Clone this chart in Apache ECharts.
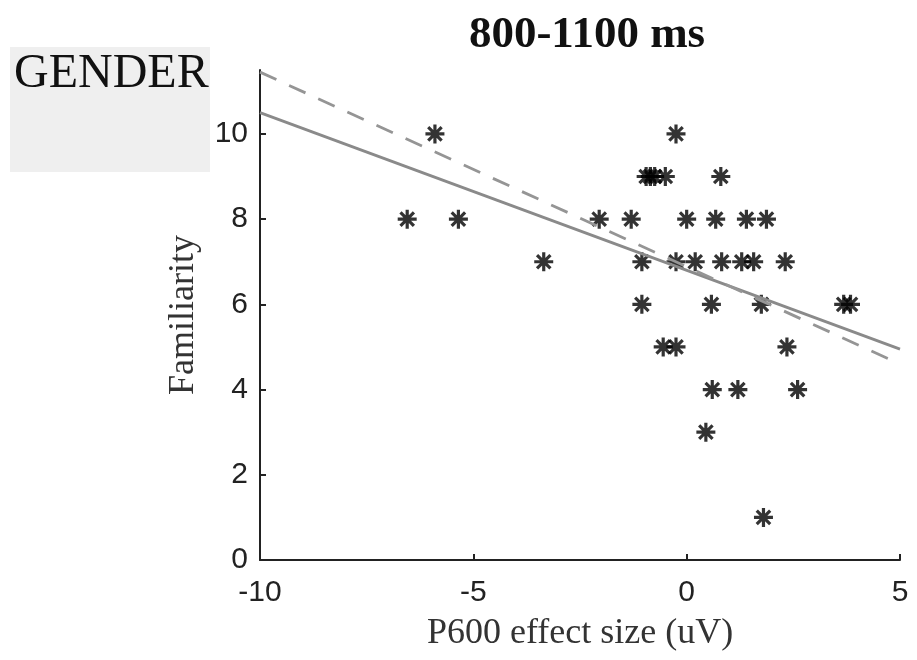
<!DOCTYPE html>
<html>
<head>
<meta charset="utf-8">
<script src="https://cdn.jsdelivr.net/npm/echarts@6/dist/echarts.min.js"></script>
<style>html,body{margin:0;padding:0;background:#fff;}#c{width:917px;height:660px;}</style>
</head>
<body>
<div id="c"></div>
<script>
// ---- data ----
const titleText = '800-1100 ms';
const panelLabel = 'GENDER';
const xName = 'P600 effect size (uV)';
const yName = 'Familiarity';
const xTicks = [-10, -5, 0, 5];
const yTicks = [0, 2, 4, 6, 8, 10];
const pointsX = [
  -5.9, -0.25,
  -0.95, -0.85, -0.75, -0.5, 0.8,
  -6.55, -5.35, -2.05, -1.3, 0.0, 0.68, 1.4, 1.87,
  -3.35, -1.05, -0.25, 0.2, 0.82, 1.29, 1.57, 2.31,
  -1.05, 0.58, 1.75, 3.68, 3.84,
  -0.55, -0.25, 2.35,
  0.6, 1.2, 2.6,
  0.45,
  1.8
];
const pointsY = [
  10, 10,
  9, 9, 9, 9, 9,
  8, 8, 8, 8, 8, 8, 8, 8,
  7, 7, 7, 7, 7, 7, 7, 7,
  6, 6, 6, 6, 6,
  5, 5, 5,
  4, 4, 4,
  3,
  1
];
const solidFitX = [-10, 5];
const solidFitY = [10.5, 4.95];
const dashedFitX = [-10, 5];
const dashedFitY = [11.45, 4.6];

const chart = echarts.init(document.getElementById('c'), null, {renderer: 'canvas'});
const star = 'path://M0,-10L0,10M-10,0L10,0M-7.07,-7.07L7.07,7.07M-7.07,7.07L7.07,-7.07';
const pts = pointsX.map((x, i) => [x, pointsY[i]]);
const solid = solidFitX.map((x, i) => [x, solidFitY[i]]);
const dashed = dashedFitX.map((x, i) => [x, dashedFitY[i]]);

chart.setOption({
  backgroundColor: '#ffffff',
  animation: false,
  title: {
    text: titleText,
    left: 582, top: 8, textAlign: 'center',
    textStyle: {fontFamily: 'Liberation Serif', fontWeight: 'bold', fontSize: 45, color: '#111'}
  },
  graphic: [
    {type: 'rect', left: 10, top: 47, shape: {width: 200, height: 125}, style: {fill: '#efefef'}, z: -1},
    {type: 'text', left: 14, top: 50, style: {text: panelLabel, font: '48px "Liberation Serif"', fill: '#111'}}
  ],
  grid: {left: 260, right: 17, top: 70, bottom: 100, containLabel: false},
  xAxis: {
    type: 'value', min: -10, max: 5, interval: 5,
    name: xName, nameLocation: 'middle', nameGap: 56,
    nameTextStyle: {fontFamily: 'Liberation Serif', fontSize: 36, color: '#333'},
    axisLine: {onZero: false, lineStyle: {color: '#222', width: 2}},
    axisTick: {inside: true, length: 6, lineStyle: {color: '#222', width: 2}, customValues: xTicks},
    axisLabel: {margin: 18, fontFamily: 'Liberation Sans', fontSize: 30, color: '#222', customValues: xTicks},
    splitLine: {show: false}
  },
  yAxis: {
    type: 'value', min: 0, max: 11.5, interval: 2,
    name: yName, nameLocation: 'middle', nameGap: 58,
    nameTextStyle: {fontFamily: 'Liberation Serif', fontSize: 36, color: '#333'},
    axisLine: {show: true, onZero: false, lineStyle: {color: '#222', width: 2}},
    axisTick: {show: true, inside: true, length: 6, lineStyle: {color: '#222', width: 2}, customValues: yTicks},
    axisLabel: {margin: 12, fontFamily: 'Liberation Sans', fontSize: 30, color: '#222', customValues: yTicks},
    splitLine: {show: false}
  },
  series: [
    {
      type: 'scatter', data: pts, symbol: star, symbolSize: 19,
      itemStyle: {color: 'rgba(0,0,0,0)', borderColor: '#000', borderWidth: 3.2},
      z: 2
    },
    {
      type: 'line', data: solid, symbol: 'none',
      lineStyle: {color: '#8a8a8a', width: 2.8},
      z: 3
    },
    {
      type: 'line', data: dashed, symbol: 'none',
      lineStyle: {color: '#959595', width: 2.8, type: [18, 14]},
      z: 3
    }
  ]
});
</script>
</body>
</html>
